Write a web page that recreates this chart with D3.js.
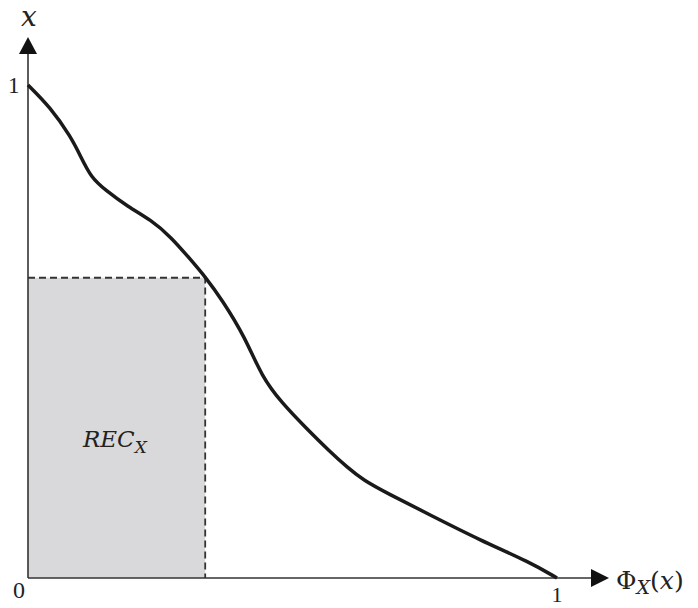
<!DOCTYPE html>
<html><head><meta charset="utf-8">
<script src="https://cdn.jsdelivr.net/npm/d3@7"></script>
<style>body{margin:0;background:#fff}svg{display:block}</style>
</head><body>
<script>
const curveX = [0,0.042,0.081,0.100,0.119,0.146,0.189,0.233,0.270,0.308,0.335,0.367,0.410,0.442,0.480,0.524,0.571,0.603,0.633,0.679,0.760,0.854,0.949,1];
const curveY = [1,0.955,0.895,0.854,0.813,0.787,0.753,0.726,0.692,0.645,0.611,0.564,0.489,0.408,0.355,0.306,0.256,0.225,0.199,0.172,0.128,0.077,0.032,0];
const recPoint = [0.335, 0.609];
const tickLabels = {x0:"0", x1:"1", y1:"1"};

const W=698,H=608;
const svg=d3.select("body").append("svg").attr("width",W).attr("height",H);
const x=d3.scaleLinear().domain([0,1]).range([28,557]);
const y=d3.scaleLinear().domain([0,1]).range([578,85]);

svg.append("rect").attr("x",x(0)).attr("y",y(recPoint[1]))
  .attr("width",x(recPoint[0])-x(0)).attr("height",y(0)-y(recPoint[1]))
  .attr("fill","#d9d9db");
svg.append("path").attr("d",`M${x(0)},${y(recPoint[1])}H${x(recPoint[0])}V${y(0)}`)
  .attr("fill","none").attr("stroke","#333").attr("stroke-width",1.8).attr("stroke-dasharray","7,4");

const axc="#333";
svg.append("line").attr("x1",x(0)).attr("y1",y(0)).attr("x2",595).attr("y2",y(0)).attr("stroke",axc).attr("stroke-width",1.6);
svg.append("line").attr("x1",x(0)).attr("y1",y(0)).attr("x2",x(0)).attr("y2",50).attr("stroke",axc).attr("stroke-width",1.6);
svg.append("path").attr("d",`M609,${y(0)}L591,${y(0)-9}L591,${y(0)+9}Z`).attr("fill","#111");
svg.append("path").attr("d",`M${x(0)},37L${x(0)-9},54L${x(0)+9},54Z`).attr("fill","#111");

const line=d3.line().x(d=>x(d[0])).y(d=>y(d[1])).curve(d3.curveBasis);
svg.append("path").datum(curveX.map((v,i)=>[v,curveY[i]])).attr("d",line)
  .attr("fill","none").attr("stroke","#1a1a1a").attr("stroke-width",3.5).attr("stroke-linejoin","round");

const serif="'DejaVu Serif','Liberation Serif',serif";
const serif2="'Liberation Serif','DejaVu Serif',serif";
svg.append("text").attr("x",8).attr("y",y(1)+8).attr("font-family",serif2).attr("font-size",23).attr("fill","#222").text(tickLabels.y1);
svg.append("text").attr("x",13).attr("y",598).attr("font-family",serif2).attr("font-size",24).attr("fill","#222").text(tickLabels.x0);
svg.append("text").attr("x",x(1)).attr("y",602).attr("text-anchor","middle").attr("font-family",serif2).attr("font-size",22).attr("fill","#222").text(tickLabels.x1);
svg.append("text").attr("x",29).attr("y",26).attr("text-anchor","middle").attr("font-family",serif).attr("font-style","italic").attr("font-size",28).attr("fill","#222").text("x");

const phi=svg.append("text").attr("x",616).attr("y",589).attr("font-family",serif).attr("font-size",25).attr("fill","#222");
phi.append("tspan").text("Φ");
phi.append("tspan").attr("font-style","italic").attr("font-size",19).attr("dy",5).text("X");
phi.append("tspan").attr("dy",-5).text("(");
phi.append("tspan").attr("font-style","italic").text("x");
phi.append("tspan").text(")");

const rec=svg.append("text").attr("x",83).attr("y",447).attr("font-family",serif).attr("font-style","italic").attr("font-size",23).attr("fill","#222");
rec.append("tspan").text("REC");
rec.append("tspan").attr("font-size",17).attr("dy",6).text("X");
</script>
</body></html>
